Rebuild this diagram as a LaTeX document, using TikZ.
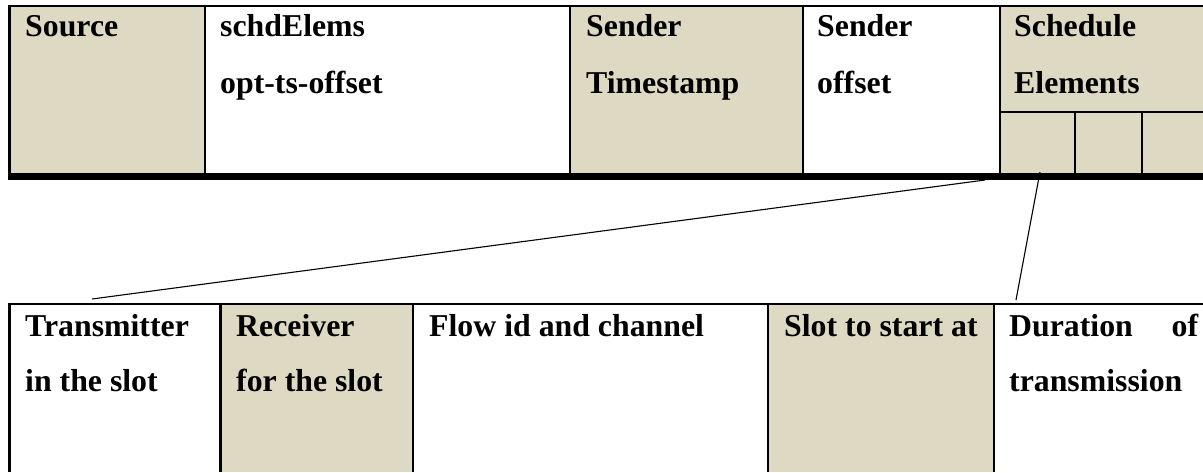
\documentclass[tikz,border=0pt]{standalone}
\usepackage{fontspec}
\setmainfont{Liberation Serif}
\definecolor{tan}{RGB}{221,217,195}
\begin{document}
\begin{tikzpicture}[x=1pt,y=-1pt,
  cell/.style={fill=tan,draw=none},
  rule/.style={line width=2.6pt,line cap=butt},
  thin rule/.style={line width=1.6pt},
  heavy/.style={line width=7pt},
  lbl/.style={anchor=base west,inner sep=0pt,font=\fontsize{31.8}{38}\selectfont\bfseries},
  link/.style={line width=1.1pt}]
\useasboundingbox (0,0) rectangle (1203,472);
% ---------- top table ----------
\fill[cell] (8,6) rectangle (205,176);
\fill[cell] (570,6) rectangle (803,176);
\fill[cell] (1000,6) rectangle (1203,176);
\draw[rule] (8,6) -- (1203,6);
\draw[rule] (9.5,6) -- (9.5,176);
\foreach \xx in {205,570,803,1000} \draw[rule] (\xx,6) -- (\xx,176);
\draw[thin rule] (1000,112) -- (1203,112);
\draw[rule,line width=2pt] (1075,112) -- (1075,174);
\draw[rule,line width=2pt] (1142,112) -- (1142,174);
\draw[heavy] (8,176.5) -- (1203,176.5);
\node[lbl] (src) at (25,36) {Source};
\node[lbl] (se1) at (220,36) {schdElems};
\node[lbl] (se2) at (220,93) {opt-ts-offset};
\node[lbl] (st1) at (586,36) {Sender};
\node[lbl] (st2) at (586,93) {Timestamp};
\node[lbl] (so1) at (817,36) {Sender};
\node[lbl] (so2) at (817,93) {offset};
\node[lbl] (sc1) at (1014,36) {Schedule};
\node[lbl] (sc2) at (1014,93) {Elements};
% ---------- bottom table ----------
\fill[cell] (220,304) rectangle (413,472);
\fill[cell] (768,304) rectangle (994,472);
\draw[rule] (8,304) -- (1203,304);
\draw[rule] (9.5,304) -- (9.5,472);
\foreach \xx in {220.5,413,768,994} \draw[rule] (\xx,304) -- (\xx,472);
\node[lbl] (tx1) at (25,336) {Transmitter};
\node[lbl] (tx2) at (25,391) {in the slot};
\node[lbl] (rx1) at (236,336) {Receiver};
\node[lbl] (rx2) at (236,391) {for the slot};
\node[lbl] (fl) at (429,336) {Flow id and channel};
\node[lbl] (sl) at (784,336) {Slot to start at};
\node[lbl,text width=189pt,align=left] (du1) at (1009,336) {Duration\hfill of};
\node[lbl] (du2) at (1009,391) {transmission};
% ---------- connectors ----------
\coordinate (a1) at (985,180);
\coordinate (a2) at (92,299);
\coordinate (b1) at (1040,172);
\coordinate (b2) at (1016,300);
\draw[link] (a1) -- (a2);
\draw[link] (b1) -- (b2);
\end{tikzpicture}
\end{document}
